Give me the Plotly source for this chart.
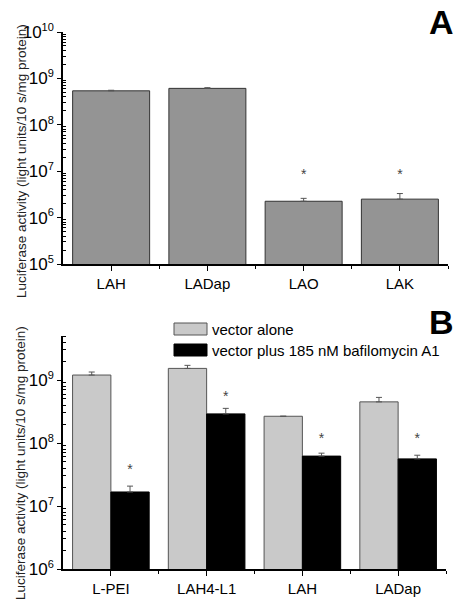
import plotly.graph_objects as go

# ---------------- data ----------------
# Panel A
cats_a = ["LAH", "LADap", "LAO", "LAK"]
vals_a = [5.4e8, 6.1e8, 2.25e6, 2.5e6]
err_a = [0.15e8, 0.2e8, 0.35e6, 0.8e6]
star_a_idx = [2, 3]
star_a_y = [7.9e6, 7.9e6]
exp_a = [5, 6, 7, 8, 9, 10]

# Panel B
cats_b = ["L-PEI", "LAH4-L1", "LAH", "LADap"]
series_names = ["vector alone", "vector plus 185 nM bafilomycin A1"]
vals_alone = [1.2e9, 1.53e9, 2.66e8, 4.5e8]
err_alone = [0.14e9, 0.18e9, 0.0, 0.8e8]
vals_baf = [1.67e7, 2.9e8, 6.2e7, 5.6e7]
err_baf = [0.4e7, 0.65e8, 0.7e7, 0.8e7]
star_b_y = [3.6e7, 5.2e8, 1.13e8, 1.12e8]
exp_b = [6, 7, 8, 9]

ytitle = "Luciferase activity (light units/10 s/mg protein)"
panel_labels = ["A", "B"]

# ---------------- style ----------------
OFF = 8  # default page body margin
W, H = 463 - OFF, 600 - OFF
FONT = "Liberation Sans, Arial, sans-serif"
c_dark = "#949494"
c_light = "#c9c9c9"
c_black = "#000000"
c_err = "#555555"

def px_x(p):
    return (p - OFF) / W

def px_y(p):
    return 1 - (p - OFF) / H

xa = list(range(len(cats_a)))
xb = list(range(len(cats_b)))

fig = go.Figure()

# Panel A bars
fig.add_trace(go.Bar(
    x=xa, y=vals_a, xaxis="x", yaxis="y",
    marker=dict(color=c_dark, line=dict(color="#333333", width=1)),
    error_y=dict(type="data", array=err_a, arrayminus=[0] * len(err_a), symmetric=False,
                 color=c_err, thickness=1, width=3),
    width=0.8, showlegend=False,
))
fig.add_trace(go.Scatter(
    x=[xa[i] for i in star_a_idx], y=star_a_y, mode="text", text=["*"] * len(star_a_idx),
    textfont=dict(size=14, color="#444444", family=FONT), xaxis="x", yaxis="y",
    showlegend=False,
))

# Panel B bars
fig.add_trace(go.Bar(
    x=xb, y=vals_alone, name=series_names[0], xaxis="x2", yaxis="y2",
    marker=dict(color=c_light, line=dict(color="#555555", width=1)),
    error_y=dict(type="data", array=err_alone, arrayminus=[0] * len(err_alone), symmetric=False,
                 color=c_err, thickness=1, width=3),
    offsetgroup="a", showlegend=False,
))
fig.add_trace(go.Bar(
    x=xb, y=vals_baf, name=series_names[1], xaxis="x2", yaxis="y2",
    marker=dict(color=c_black, line=dict(color="#000000", width=1)),
    error_y=dict(type="data", array=err_baf, arrayminus=[0] * len(err_baf), symmetric=False,
                 color=c_err, thickness=1, width=3),
    offsetgroup="b", showlegend=False,
))
fig.add_trace(go.Scatter(
    x=[v + 0.2 for v in xb], y=star_b_y, mode="text", text=["*"] * len(xb),
    textfont=dict(size=14, color="#444444", family=FONT), xaxis="x2", yaxis="y2",
    showlegend=False,
))

xdom_a = [px_x(63), px_x(448)]
xdom_b = [px_x(63), px_x(446)]

def xaxis_cfg(cats, dom, anchor):
    return dict(
        domain=dom, anchor=anchor, range=[-0.5, len(cats) - 0.5],
        tickmode="array", tickvals=list(range(len(cats))), ticktext=cats,
        ticks="outside", ticklen=5, tickwidth=1.2, tickcolor="black",
        minor=dict(tickmode="array", tickvals=[i + 0.5 for i in range(len(cats))],
                   ticks="outside", ticklen=3, tickwidth=1.2, tickcolor="black", showgrid=False),
        showline=True, linecolor="black", linewidth=1.5,
        showgrid=False, zeroline=False,
        tickfont=dict(family=FONT, size=15, color="black"),
        automargin=False, fixedrange=True,
    )

def yaxis_cfg(rng, exps, dom, anchor):
    minor_vals = [k * 10.0 ** e for e in range(exps[0], exps[-1] + 1) for k in range(2, 10)
                  if k * 10.0 ** e <= 10.0 ** rng[1]]
    return dict(
        domain=dom, anchor=anchor, type="log", range=rng,
        tickmode="array", tickvals=[10.0 ** e for e in exps],
        ticktext=["10<sup><span style='font-size:11px'>%d</span></sup>" % e for e in exps],
        ticks="outside", ticklen=4, tickwidth=1.2, tickcolor="black",
        minor=dict(tickmode="array", tickvals=minor_vals, ticks="inside", ticklen=3, tickwidth=1,
                   tickcolor="black", showgrid=False),
        showline=True, linecolor="black", linewidth=1.5,
        showgrid=False, zeroline=False,
        tickfont=dict(family=FONT, size=17, color="black"),
        automargin=False, fixedrange=True,
    )

fig.update_layout(
    width=W, height=H,
    margin=dict(l=0, r=0, t=0, b=0),
    paper_bgcolor="white", plot_bgcolor="white",
    bargap=0.2, bargroupgap=0.0, barmode="group",
    font=dict(family=FONT, color="black"),
    xaxis=xaxis_cfg(cats_a, xdom_a, "y"),
    yaxis=yaxis_cfg([5, 10], exp_a, [px_y(264), px_y(32)], "x"),
    xaxis2=xaxis_cfg(cats_b, xdom_b, "y2"),
    yaxis2=yaxis_cfg([6, 9.699], exp_b, [px_y(569), px_y(336)], "x2"),
)

annotations = [
    dict(text=ytitle, textangle=-90, x=px_x(21), y=px_y(161), xref="paper", yref="paper",
         xanchor="center", yanchor="middle", showarrow=False,
         font=dict(family=FONT, size=13.5, color="#222222")),
    dict(text=ytitle, textangle=-90, x=px_x(21), y=px_y(463), xref="paper", yref="paper",
         xanchor="center", yanchor="middle", showarrow=False,
         font=dict(family=FONT, size=13.5, color="#222222")),
    dict(text="<b>%s</b>" % panel_labels[0], x=px_x(441), y=px_y(22), xref="paper", yref="paper",
         xanchor="center", yanchor="middle", showarrow=False,
         font=dict(family=FONT, size=34, color="black")),
    dict(text="<b>%s</b>" % panel_labels[1], x=px_x(441), y=px_y(322), xref="paper", yref="paper",
         xanchor="center", yanchor="middle", showarrow=False,
         font=dict(family=FONT, size=34, color="black")),
]

# manual legend (wide swatches as in the reference)
shapes = []
leg_rows = [(329, c_light, "#555555"), (350, c_black, "#000000")]
for (yc, fc, lc), name in zip(leg_rows, series_names):
    shapes.append(dict(type="rect", xref="paper", yref="paper",
                       x0=px_x(174), x1=px_x(207), y0=px_y(yc + 6), y1=px_y(yc - 6),
                       fillcolor=fc, line=dict(color=lc, width=1)))
    annotations.append(dict(text=name, x=px_x(210), y=px_y(yc), xref="paper", yref="paper",
                            xanchor="left", yanchor="middle", showarrow=False,
                            font=dict(family=FONT, size=15, color="black")))

fig.update_layout(annotations=annotations, shapes=shapes)

fig.write_html("out.html")
